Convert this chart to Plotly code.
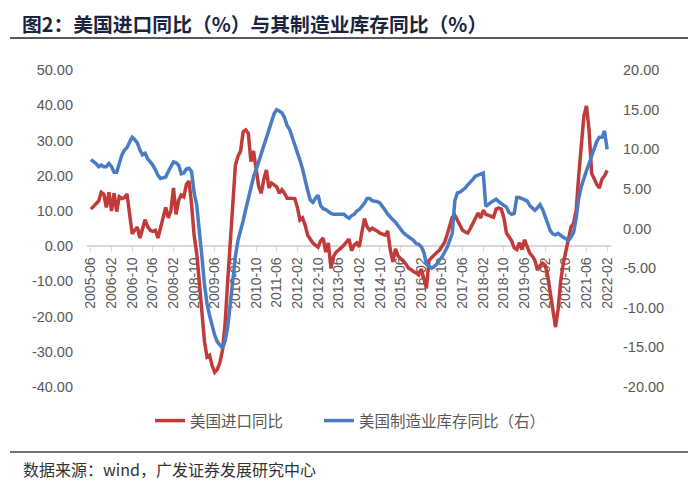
import plotly.graph_objects as go
import pandas as pd

# ---------------- data ----------------
months = pd.date_range("2005-06-01", "2022-02-01", freq="MS").strftime("%Y-%m").tolist()

tick_labels = ["2005-06", "2006-02", "2006-10", "2007-06", "2008-02", "2008-10", "2009-06",
               "2010-02", "2010-10", "2011-06", "2012-02", "2012-10", "2013-06", "2014-02",
               "2014-10", "2015-06", "2016-02", "2016-10", "2017-06", "2018-02", "2018-10",
               "2019-06", "2020-02", "2020-10", "2021-06", "2022-02"]

# 美国进口同比 (left axis, %)
imports_yoy = [
    10.5, 11.2, 12, 12.8, 15.3, 14.8, 11, 15.3, 10, 15,
    9.8, 14, 13.5, 13.8, 14.8, 9, 3.5, 4.5, 5.4, 2.3,
    5, 7.5, 5.5, 4.5, 4.2, 4.5, 2.3, 5, 8, 11,
    8, 10, 16.5, 9, 13, 14.5, 14, 17.5, 18.5, 12,
    3, -2, -10, -19, -27, -31.5, -31, -34, -35.8, -35,
    -33, -29.5, -22, -10, 2, 12, 23, 25.5, 27, 32.5,
    33, 32, 24, 27, 21, 17, 15, 19, 21.6, 16.5,
    17.9, 17.3, 16.8, 15, 16, 15, 13.6, 13.6, 13.6, 13.5,
    11, 7.4, 8, 6, 3.1, 2, 0.9, 0.3, -0.3, 1.5,
    2.3, -1.7, 0.9, -6.3, -3, -1.7, -1.2, -0.5, 0.3, 1.2,
    2.0, -1.3, 0.3, 0.9, -0.2, 4, 7.8, 5.5, 4.5, 5.1,
    4.5, 4.2, 3.7, 3.4, 3.1, 4.3, -1.1, -4.5, -0.8, -2.8,
    -3.6, -4.3, -5, -6.2, -6.8, -7.2, -7.6, -8.2, -6.5, -9,
    -12, -4, -3.2, -2.5, -1.8, -1.2, 0, 1, 3.2, 5.5,
    8.2, 8.8, 7.5, 6, 4.5, 4, 3.7, 5, 6.5, 8,
    9.4, 8, 10.2, 9, 8.8, 8.5, 8.2, 10.5, 10.8, 10.5,
    8, 3.7, 2.5, 1.5, -0.5, -1, 1, -1, 1.8, 0,
    -2, -2.8, -4, -6.8, -5.5, -4.8, -5.4, -8.5, -13, -19,
    -23, -18, -10, -5, -1.5, 2.6, 5.4, 6.5, 10, 20,
    30, 37, 39.8, 33, 20.7, 18.8, 17.5, 16.5, 19, 20,
    21.5,
]

# 美国制造业库存同比 (right axis, %)
inventory_yoy = [
    8.7, 8.5, 8.2, 7.8, 8.0, 7.8, 7.8, 8.2, 7.8, 7.1,
    7.1, 8.2, 9.3, 9.9, 10.2, 10.9, 11.5, 11.2, 10.8, 9.9,
    9.3, 9.5, 8.8, 8.4, 8.0, 7.4, 6.7, 6.3, 6.4, 6.5,
    7.2, 7.8, 8.4, 8.3, 8.0, 6.9, 7.0, 7.5, 7.6, 7.2,
    4.5, 3.0, 0, -3.5, -7, -9.5, -11, -12.5, -13.5, -14.3,
    -14.8, -15.1, -14.2, -12.5, -9.5, -6, -3.5, -1.5, -0.4, 1.0,
    2.4, 3.8, 5, 6.5, 7.4, 8.4, 9.5, 10.6, 11.6, 12.5,
    13.4, 14.5, 15.0, 14.8, 14.6, 14.0, 13.0, 12.5, 11.6, 10.6,
    9.7, 8.6, 7.5, 6.0, 4.8, 3.6, 3.3, 3.8, 4.2, 2.9,
    2.5, 2.4, 2.1, 1.9, 1.8, 1.8, 1.8, 1.8, 1.8, 1.5,
    1.3, 1.6, 1.8, 2.2, 2.4, 2.8, 3.2, 3.8, 3.8, 3.5,
    3.5, 3.4, 3.2, 2.8, 2.3, 1.8, 1.4, 1.1, 0.8, 0.3,
    -0.1, -0.5, -0.8, -1.0, -1.3, -1.5, -1.9, -2.0, -2.3, -3.0,
    -4.5, -4.8, -5.0, -4.8, -4.5, -4.0, -3.6, -3.0, -2.4, -1.5,
    -0.6, 3.5, 4.5, 4.6, 4.8, 5.1, 5.5, 5.8, 6.2, 6.6,
    6.7, 6.8, 7.0, 2.8, 3.1, 3.3, 3.5, 3.7, 3.4, 3.2,
    3.0, 2.7, 2.0, 1.8, 1.9, 3.9, 3.9, 3.8, 3.6, 3.5,
    2.9, 2.6, 2.3, 2.6, 3.0, 2.4, 1.5, 0.8, -0.3, -0.7,
    -0.8, -0.6, -0.9, -1.1, -1.3, -1.5, -1.1, -0.5, 1.3, 3.8,
    5.3, 6.4, 7.3, 8.2, 9.2, 10.2, 11.0, 11.5, 11.5, 12.3,
    10.0,
]

left_ticks = [50, 40, 30, 20, 10, 0, -10, -20, -30, -40]
left_tick_text = ["50.00", "40.00", "30.00", "20.00", "10.00", "0.00",
                  "-10.00", "-20.00", "-30.00", "-40.00"]
right_ticks = [20, 15, 10, 5, 0, -5, -10, -15, -20]
right_tick_text = ["20.00", "15.00", "10.00", "5.00", "0.00",
                   "-5.00", "-10.00", "-15.00", "-20.00"]

series_names = ["美国进口同比", "美国制造业库存同比（右）"]
title_text = "图2：美国进口同比（%）与其制造业库存同比（%）"
source_text = "数据来源：wind，广发证券发展研究中心"

# ---------------- style ----------------
RED = "#C23B3B"
BLUE = "#4A7CC4"
GRAY = "#595959"
CJK = "Noto Sans CJK SC"
LATIN = "Liberation Sans"

W, H = 700, 486
L, R, T, B = 87, 89, 70, 99
PW, PH = W - L - R, H - T - B


def px_x(x):
    return (x - L) / PW


def px_y(y):
    return (H - B - y) / PH


legend_font = dict(family=CJK, size=15.5, color=GRAY)

fig = go.Figure()
fig.add_trace(go.Scatter(x=months, y=imports_yoy, name=series_names[0], mode="lines",
                         line=dict(color=RED, width=3.5), legend="legend"))
fig.add_trace(go.Scatter(x=months, y=inventory_yoy, name=series_names[1], mode="lines",
                         yaxis="y2", line=dict(color=BLUE, width=3.5), legend="legend2"))

fig.update_layout(
    width=W, height=H,
    margin=dict(l=L, r=R, t=T, b=B, pad=0, autoexpand=False),
    paper_bgcolor="white", plot_bgcolor="white",
    showlegend=True,
    title=dict(text="<b>" + title_text + "</b>", x=22 / W, xanchor="left", xref="container",
               y=1 - 25 / H, yanchor="middle", yref="container",
               font=dict(family=CJK, size=19.8, color="#1B2540")),
    xaxis=dict(type="category", range=[-1.5, 201.5],
               tickmode="array", tickvals=tick_labels, ticktext=tick_labels,
               tickangle=-90, ticks="outside", ticklen=5, tickcolor="#D9D9D9", tickwidth=1,
               showline=True, linecolor="#D9D9D9", linewidth=1.5,
               showgrid=False, zeroline=False,
               anchor="free", position=px_y(246), layer="below traces",
               tickfont=dict(family=LATIN, size=14, color=GRAY)),
    yaxis=dict(range=[-40, 50], tickmode="array", tickvals=left_ticks, ticktext=left_tick_text,
               showgrid=False, zeroline=False, showline=False, ticks="",
               ticklabelstandoff=13,
               tickfont=dict(family=LATIN, size=14.5, color=GRAY)),
    yaxis2=dict(range=[-20, 20], overlaying="y", side="right", anchor="x",
                tickmode="array", tickvals=right_ticks, ticktext=right_tick_text,
                showgrid=False, zeroline=False, showline=False, ticks="",
                ticklabelstandoff=11,
                tickfont=dict(family=LATIN, size=14.5, color=GRAY)),
    legend=dict(orientation="h", x=px_x(150), xanchor="left", y=px_y(421), yanchor="middle",
                font=legend_font, bgcolor="rgba(0,0,0,0)"),
    legend2=dict(orientation="h", x=px_x(319), xanchor="left", y=px_y(421), yanchor="middle",
                 font=legend_font, bgcolor="rgba(0,0,0,0)"),
    shapes=[
        dict(type="line", xref="paper", yref="paper", x0=px_x(10), x1=px_x(688),
             y0=px_y(38), y1=px_y(38), line=dict(color="#222222", width=1.5)),
        dict(type="line", xref="paper", yref="paper", x0=px_x(10), x1=px_x(688),
             y0=px_y(452), y1=px_y(452), line=dict(color="#444444", width=1.5)),
    ],
    annotations=[
        dict(text=source_text, xref="paper", yref="paper", x=px_x(21), y=px_y(468.5),
             xanchor="left", yanchor="middle", showarrow=False,
             font=dict(family=CJK, size=16, color="#333333")),
    ],
)

fig.write_html("out.html", config={"displayModeBar": False},
               post_script="document.body.style.margin='0';document.body.style.padding='0';")
